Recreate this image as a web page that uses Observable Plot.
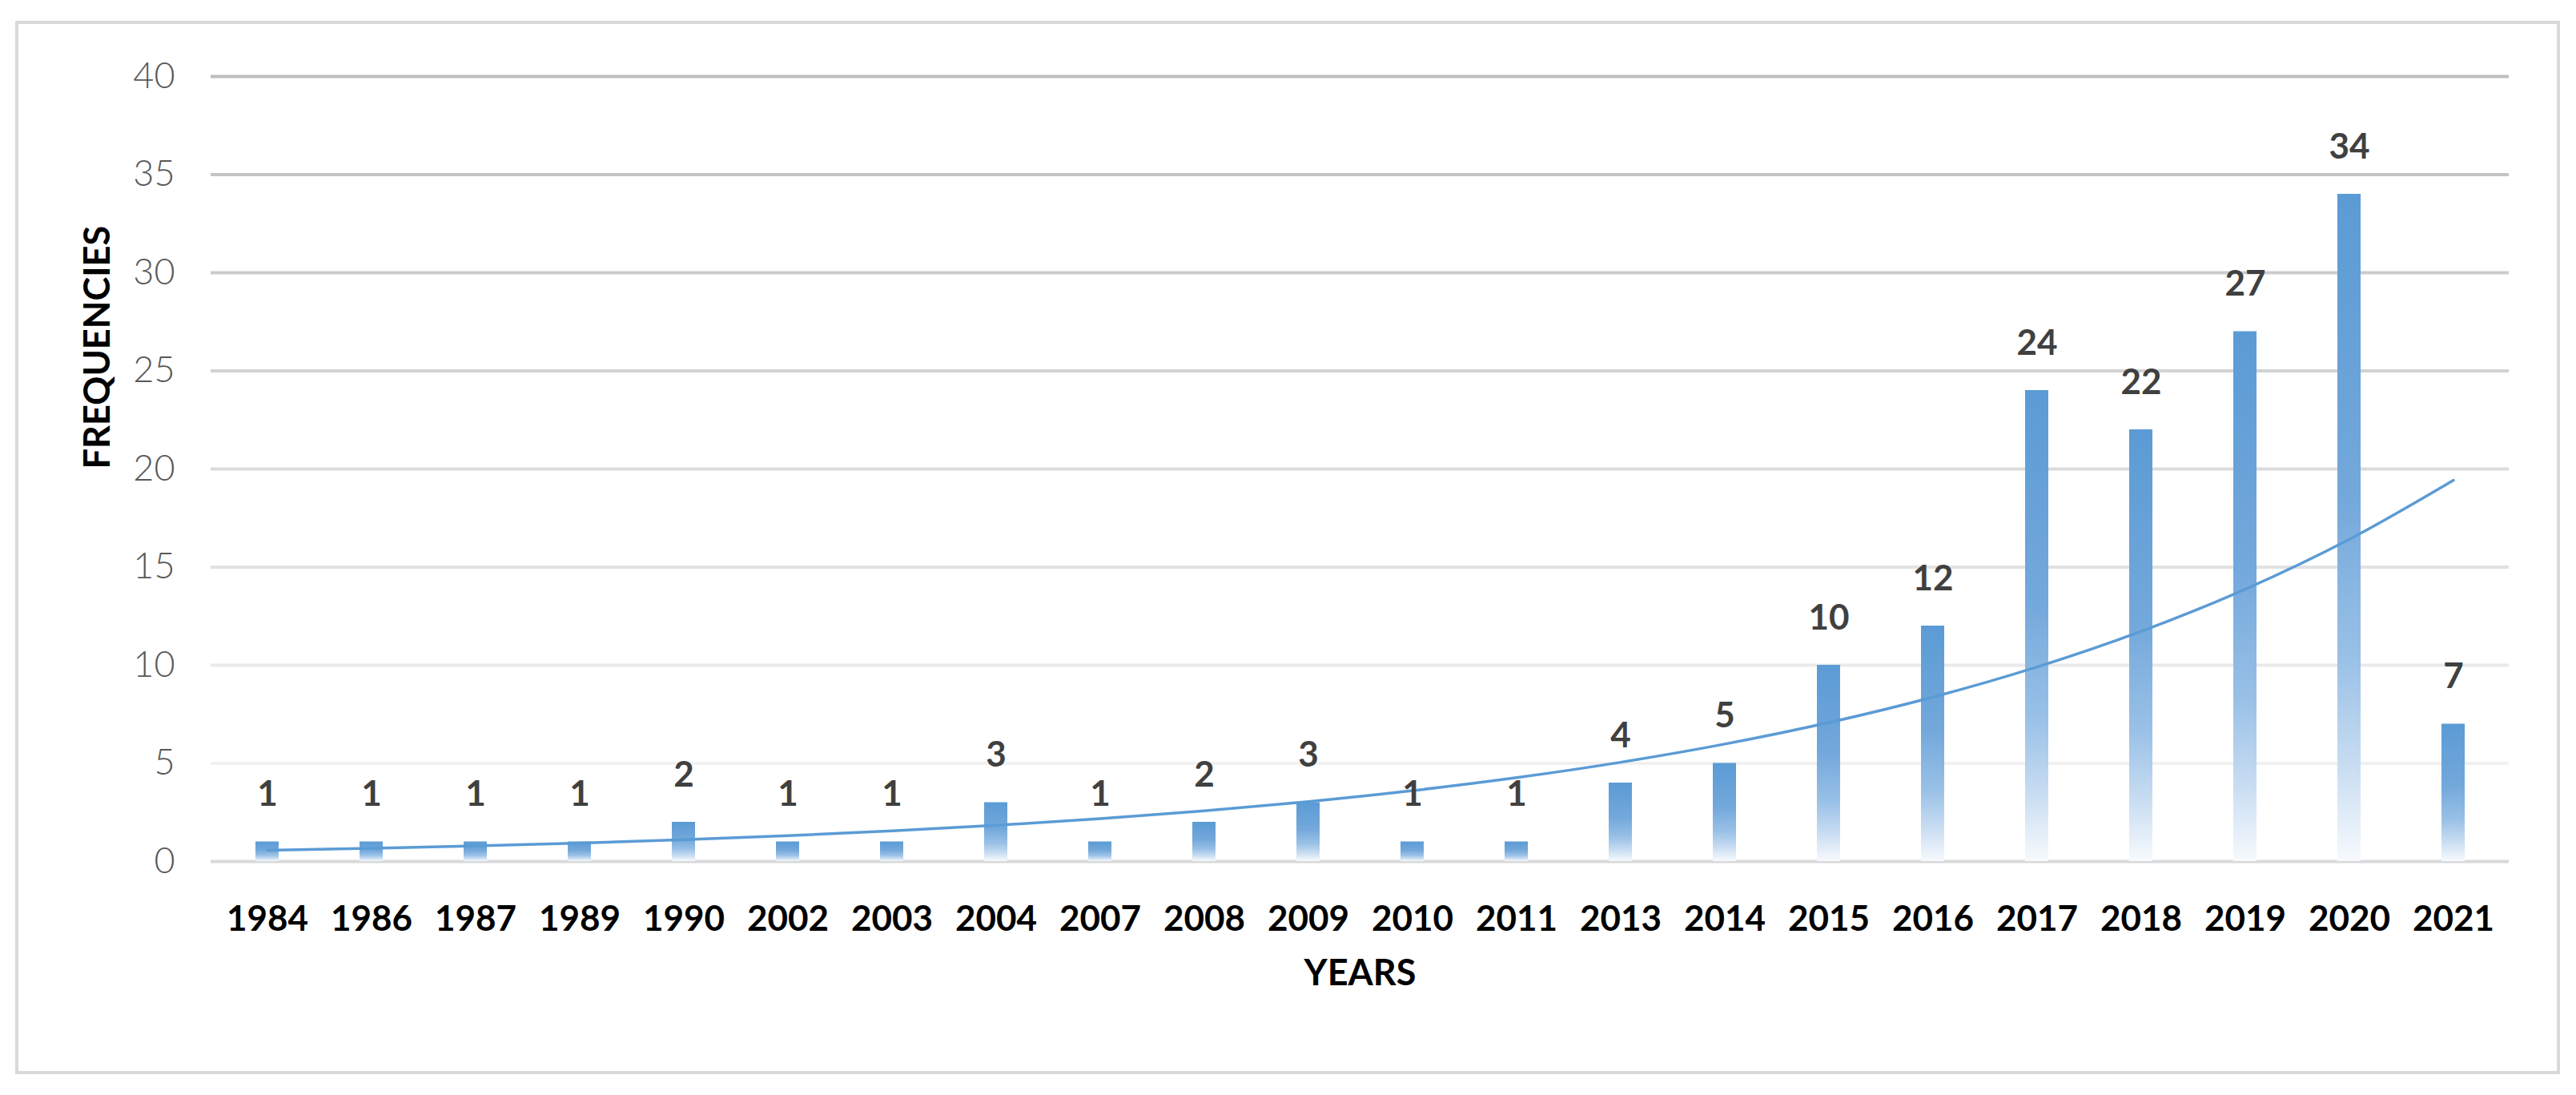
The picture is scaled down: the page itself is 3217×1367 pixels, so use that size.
<!DOCTYPE html>
<html>
<head>
<meta charset="utf-8">
<script src="https://cdn.jsdelivr.net/npm/d3@7"></script>
<script src="https://cdn.jsdelivr.net/npm/@observablehq/plot@0.6"></script>
<style>
html, body { margin: 0; padding: 0; background: #fff; }
#chart { width: 3217px; height: 1367px; }
</style>
</head>
<body>
<div id="chart"></div>
<script>
// ---- data ----
const years = ["1984","1986","1987","1989","1990","2002","2003","2004","2007","2008","2009",
               "2010","2011","2013","2014","2015","2016","2017","2018","2019","2020","2021"];
const counts = [1,1,1,1,2,1,1,3,1,2,3,1,1,4,5,10,12,24,22,27,34,7];
const yTicks = [0,5,10,15,20,25,30,35,40];
const xTitle = "YEARS";
const yTitle = "FREQUENCIES";

const data = years.map((year, i) => ({year, count: counts[i], idx: i + 1}));

// Excel-style exponential trendline: least squares fit of ln(count) on category index
const mx = d3.mean(data, d => d.idx);
const my = d3.mean(data, d => Math.log(d.count));
const b = d3.sum(data, d => (d.idx - mx) * (Math.log(d.count) - my)) / d3.sum(data, d => (d.idx - mx) ** 2);
const a = Math.exp(my - b * mx);
const trend = data.map(d => ({year: d.year, value: a * Math.exp(b * d.idx)}));

const FONT = "Lato,'Open Sans','Liberation Sans',sans-serif";
const gridColor = d3.interpolateRgb("#F1F1F1", "#BDBDBD");

const plot = Plot.plot({
  width: 3217,
  height: 1367,
  marginLeft: 263,
  marginRight: 84,
  marginTop: 95,
  marginBottom: 292,
  style: {fontFamily: FONT, background: "#fff", overflow: "visible"},
  x: {domain: years, paddingInner: 0.78, paddingOuter: 0.39, label: null},
  y: {domain: [0, 40], label: null},
  color: {type: "identity"},
  marks: [
    Plot.ruleY(yTicks.filter(t => t > 0), {y: d => d, stroke: d => gridColor((d - 5) / 35), strokeWidth: 4}),
    Plot.ruleY([0], {stroke: "#D9D9D9", strokeWidth: 4}),
    Plot.barY(data, {x: "year", y: "count", fill: "url(#barGrad)"}),
    Plot.line(trend, {x: "year", y: "value", stroke: "#5B9BD5", strokeWidth: 3.5, curve: "catmull-rom"}),
    Plot.text(data, {x: "year", y: "count", text: d => String(d.count), dy: -59,
                     fontSize: 44, fontWeight: "bold", fill: "#404040"}),
    Plot.axisX({tickSize: 0, tickPadding: 55, fontSize: 44, fontWeight: "bold", fill: "#000", label: null}),
    Plot.axisY({ticks: yTicks, tickSize: 0, tickPadding: 45, fontSize: 45, fontWeight: 300, fill: "#595959", label: null}),
    Plot.text([xTitle], {frameAnchor: "bottom", text: d => d, dy: 154, fontSize: 45, fontWeight: "bold", fill: "#000"}),
    Plot.text([yTitle], {frameAnchor: "left", text: d => d, dx: -141, rotate: -90, fontSize: 45, fontWeight: "bold", fill: "#000"})
  ]
});

const svg = d3.select(plot);
const defs = svg.insert("defs", ":first-child");
const grad = defs.append("linearGradient").attr("id", "barGrad")
  .attr("x1", 0).attr("y1", 0).attr("x2", 0).attr("y2", 1);
[[0, "#5B9BD5"], [0.45, "#73A8DB"], [0.7, "#9AC1E7"], [0.86, "#C9DDF2"], [1, "#F7FAFD"]]
  .forEach(([o, c]) => grad.append("stop").attr("offset", o).attr("stop-color", c));
svg.insert("rect", "defs + *")
  .attr("x", 21).attr("y", 28).attr("width", 3174).attr("height", 1311)
  .attr("fill", "none").attr("stroke", "#D9D9D9").attr("stroke-width", 4);

document.getElementById("chart").appendChild(plot);
</script>
</body>
</html>
